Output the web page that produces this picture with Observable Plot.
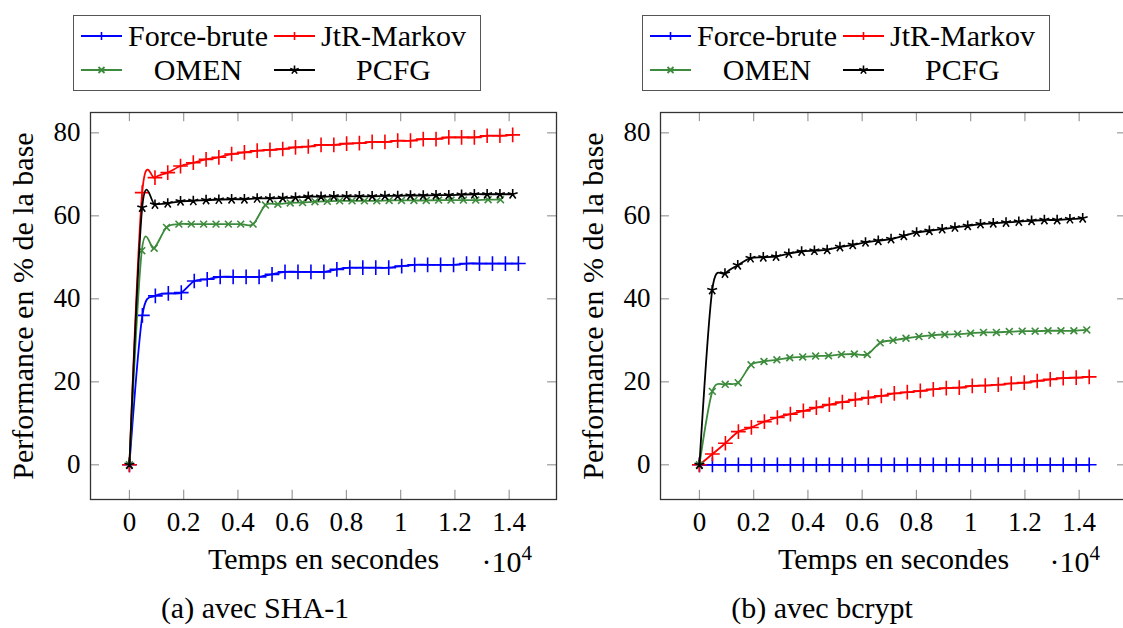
<!DOCTYPE html>
<html>
<head>
<meta charset="utf-8">
<script src="https://cdn.jsdelivr.net/npm/d3@7"></script>
<script src="https://cdn.jsdelivr.net/npm/@observablehq/plot@0.6"></script>
<style>
html, body { margin: 0; padding: 0; background: #fff; }
body { width: 1123px; height: 628px; overflow: hidden; position: relative; font-family: "Liberation Serif", "Times New Roman", Times, "DejaVu Serif", serif; color: #000; }
.panel { position: absolute; top: 100px; width: 560px; height: 490px; }
.legend { position: absolute; top: 15px; width: 408px; height: 76px; box-sizing: border-box; border: 1px solid #555;
  display: grid; grid-template-columns: 41px 140px 41px 145px; grid-auto-rows: 34px; column-gap: 6px; padding: 3px 0 0 7px; }
.legend .lab { font-size: 30px; line-height: 34px; text-align: center; white-space: nowrap; }
.legend svg { display: block; }
.txt { position: absolute; font-size: 30px; line-height: 30px; white-space: nowrap; }
.txt sup { font-size: 21px; vertical-align: 0; position: relative; top: -12px; }
</style>
</head>
<body>
<div id="legA" class="legend" style="left:73px"></div>
<div id="legB" class="legend" style="left:642px"></div>
<div id="plotA" class="panel" style="left:0px"></div>
<div id="plotB" class="panel" style="left:570px"></div>
<div class="txt" style="left:382px;width:150px;text-align:right;top:547px">·10<sup>4</sup></div>
<div class="txt" style="left:950px;width:150px;text-align:right;top:547px">·10<sup>4</sup></div>
<div class="txt" style="left:55px;width:400px;text-align:center;top:593px">(a) avec SHA-1</div>
<div class="txt" style="left:622px;width:400px;text-align:center;top:593px">(b) avec bcrypt</div>
<script>
// ---------- data ----------
const seriesNames = ["Force-brute", "JtR-Markov", "OMEN", "PCFG"];
const seriesColors = ["#0000ff", "#ff0000", "#3d8b3d", "#000000"];

const xTicks = [0, 2000, 4000, 6000, 8000, 10000, 12000, 14000];
const xTickLabels = ["0", "0.2", "0.4", "0.6", "0.8", "1", "1.2", "1.4"];
const yTicks = [0, 20, 40, 60, 80];
const xLabel = "Temps en secondes";
const yLabel = "Performance en % de la base";

// (a) SHA-1
const tShaBrute = [0,478,956,1434,1912,2390,2868,3346,3824,4302,4780,5258,5736,6214,6692,7170,7648,8126,8604,9082,9560,10038,10516,10994,11472,11950,12428,12906,13384,13862,14340];
const vShaBrute = [0,36,40.7,41.3,41.5,44.3,44.7,45.3,45.3,45.3,45.3,45.9,46.5,46.5,46.5,46.5,47.1,47.5,47.5,47.5,47.5,47.9,48.2,48.2,48.2,48.2,48.5,48.5,48.5,48.5,48.5];
const tShaMarkov = [0,471,942,1413,1884,2355,2826,3297,3768,4239,4710,5181,5652,6123,6594,7065,7536,8007,8478,8949,9420,9891,10362,10833,11304,11775,12246,12717,13188,13659,14130];
const vShaMarkov = [0,65.6,69.2,70.4,72.0,72.8,73.6,74.1,74.9,75.3,75.7,75.9,76.1,76.5,76.7,77.1,77.1,77.4,77.5,77.8,77.8,78.1,78.1,78.5,78.5,78.9,78.9,78.9,79.3,79.3,79.5];
const tShaOmen = [0,456,912,1368,1824,2280,2736,3192,3648,4104,4560,5016,5472,5928,6384,6840,7296,7752,8208,8664,9120,9576,10032,10488,10944,11400,11856,12312,12768,13224,13680];
const vShaOmen = [0,51.6,52.2,57.2,58.0,58.0,58.0,58.0,58.0,58.0,58.0,62.6,62.8,63.1,63.2,63.4,63.5,63.6,63.6,63.6,63.6,63.7,63.7,63.7,63.7,63.8,63.8,63.8,63.8,63.9,63.9];
const tShaPcfg = [0,471,942,1413,1884,2355,2826,3297,3768,4239,4710,5181,5652,6123,6594,7065,7536,8007,8478,8949,9420,9891,10362,10833,11304,11775,12246,12717,13188,13659,14130];
const vShaPcfg = [0,62.0,62.7,63.0,63.5,63.6,63.8,63.9,64.0,64.0,64.2,64.2,64.3,64.4,64.6,64.6,64.7,64.7,64.7,64.7,64.8,64.8,64.9,64.9,65.0,65.0,65.1,65.2,65.2,65.2,65.2];

// (b) bcrypt
const tBcBrute = [0,479,958,1437,1916,2395,2874,3353,3832,4311,4790,5269,5748,6227,6706,7185,7664,8143,8622,9101,9580,10059,10538,11017,11496,11975,12454,12933,13412,13891,14370];
const vBcBrute = [0,0,0,0,0,0,0,0,0,0,0,0,0,0,0,0,0,0,0,0,0,0,0,0,0,0,0,0,0,0,0];
const tBcMarkov = [0,479,958,1437,1916,2395,2874,3353,3832,4311,4790,5269,5748,6227,6706,7185,7664,8143,8622,9101,9580,10059,10538,11017,11496,11975,12454,12933,13412,13891,14370];
const vBcMarkov = [0,2.6,5.2,8.0,9.0,10.4,11.4,12.2,13.0,13.8,14.5,15.1,15.7,16.2,16.6,17.2,17.5,17.8,18.2,18.5,18.6,19.0,19.1,19.3,19.6,19.8,20.2,20.6,20.9,21.0,21.2];
const tBcOmen = [0,476,952,1428,1904,2380,2856,3332,3808,4284,4760,5236,5712,6188,6664,7140,7616,8092,8568,9044,9520,9996,10472,10948,11424,11900,12376,12852,13328,13804,14280];
const vBcOmen = [0,17.7,19.4,19.8,24.1,24.9,25.3,25.8,26.0,26.2,26.3,26.6,26.7,26.6,29.4,30.0,30.5,30.9,31.2,31.4,31.5,31.7,31.9,31.9,32.1,32.2,32.2,32.3,32.3,32.3,32.5];
const tBcPcfg = [0,471,942,1413,1884,2355,2826,3297,3768,4239,4710,5181,5652,6123,6594,7065,7536,8007,8478,8949,9420,9891,10362,10833,11304,11775,12246,12717,13188,13659,14130];
const vBcPcfg = [0,42.1,46.1,48.1,49.8,50.0,50.2,50.9,51.4,51.6,51.8,52.5,53.0,53.6,54.0,54.4,55.2,56.0,56.4,56.8,57.2,57.6,58.0,58.2,58.4,58.6,58.8,59.0,59.0,59.2,59.4];

// ---------- styles ----------
const FONT = "'Liberation Serif', 'Times New Roman', Times, 'DejaVu Serif', serif";
const xDomain = [-1435, 15745];
const yDomain = [-8.36, 84.9];

const star5 = {
  draw(ctx, size) {
    const r = Math.sqrt(size / Math.PI);
    for (let i = 0; i < 5; i++) {
      const a = i * 2 * Math.PI / 5;
      ctx.moveTo(0, 0);
      ctx.lineTo(r * Math.sin(a), -r * Math.cos(a));
    }
  }
};
const markers = [
  {symbol: "plus", r: 4.8, sw: 1.6},
  {symbol: "plus", r: 4.8, sw: 1.6},
  {symbol: "times", r: 3.2, sw: 1.6},
  {symbol: star5, r: 5.2, sw: 1.6}
];

function rows(t, v) { return t.map((d, i) => ({t: d, v: v[i]})); }

function panel(series) {
  const marks = [
    Plot.ruleX(xTicks, {y1: yDomain[0], y2: yDomain[0] + 2.2, stroke: "#9a9a9a", strokeWidth: 1.2}),
    Plot.ruleX(xTicks, {y1: yDomain[1] - 2.2, y2: yDomain[1], stroke: "#9a9a9a", strokeWidth: 1.2}),
    Plot.ruleY(yTicks, {x1: xDomain[0], x2: xDomain[0] + 330, stroke: "#9a9a9a", strokeWidth: 1.2}),
    Plot.ruleY(yTicks, {x1: xDomain[1] - 330, x2: xDomain[1], stroke: "#9a9a9a", strokeWidth: 1.2}),
    Plot.axisX(xTicks, {tickSize: 0, tickPadding: 12, label: null, fontSize: 27,
      tickFormat: d => xTickLabels[xTicks.indexOf(d)]}),
    Plot.axisY(yTicks, {tickSize: 0, tickPadding: 10, label: null, fontSize: 27}),
    Plot.text([yLabel], {frameAnchor: "left", rotate: -90, dx: -67, textAnchor: "middle", lineAnchor: "middle", fontSize: 30}),
    Plot.text([xLabel], {frameAnchor: "bottom", dy: 69, textAnchor: "middle", lineAnchor: "bottom", fontSize: 30})
  ];
  series.forEach((s, i) => {
    const data = rows(s[0], s[1]);
    marks.push(Plot.line(data, {x: "t", y: "v", stroke: seriesColors[i], strokeWidth: 1.8, curve: "cardinal", tension: 0.1}));
    marks.push(Plot.dot(data, {x: "t", y: "v", symbol: markers[i].symbol, r: markers[i].r,
      stroke: seriesColors[i], fill: "none", strokeWidth: markers[i].sw}));
  });
  marks.push(Plot.frame({stroke: "#333", strokeWidth: 1.3}));
  return Plot.plot({
    width: 560, height: 490,
    marginLeft: 90, marginRight: 4, marginTop: 12, marginBottom: 91,
    x: {domain: xDomain},
    y: {domain: yDomain},
    style: {fontFamily: FONT, fontSize: "27px", color: "#000", background: "transparent", maxWidth: "none", overflow: "visible"},
    marks
  });
}

document.getElementById("plotA").append(panel([
  [tShaBrute, vShaBrute], [tShaMarkov, vShaMarkov], [tShaOmen, vShaOmen], [tShaPcfg, vShaPcfg]
]));
document.getElementById("plotB").append(panel([
  [tBcBrute, vBcBrute], [tBcMarkov, vBcMarkov], [tBcOmen, vBcOmen], [tBcPcfg, vBcPcfg]
]));

// ---------- legends ----------
function sample(i) {
  const ns = "http://www.w3.org/2000/svg";
  const svg = document.createElementNS(ns, "svg");
  svg.setAttribute("width", 41); svg.setAttribute("height", 34);
  const c = seriesColors[i];
  let inner = `<line x1="0" y1="17" x2="41" y2="17" stroke="${c}" stroke-width="1.8"/>`;
  if (i < 2) inner += `<line x1="20.5" y1="13" x2="20.5" y2="21" stroke="${c}" stroke-width="1.6"/>`;
  else if (i === 2) inner += `<path d="M17.5,14L23.5,20M17.5,20L23.5,14" stroke="${c}" stroke-width="1.8"/>`;
  else {
    let d = "";
    for (let k = 0; k < 5; k++) { const a = k * 2 * Math.PI / 5; d += `M20.5,17L${20.5 + 4.5 * Math.sin(a)},${17 - 4.5 * Math.cos(a)}`; }
    inner += `<path d="${d}" stroke="${c}" stroke-width="1.6"/>`;
  }
  svg.innerHTML = inner;
  return svg;
}
for (const id of ["legA", "legB"]) {
  const el = document.getElementById(id);
  seriesNames.forEach((n, i) => {
    const cell = document.createElement("div");
    cell.style.display = "flex"; cell.style.alignItems = "center";
    cell.append(sample(i));
    const lab = document.createElement("div");
    lab.className = "lab"; lab.textContent = n;
    el.append(cell, lab);
  });
}
</script>
</body>
</html>
